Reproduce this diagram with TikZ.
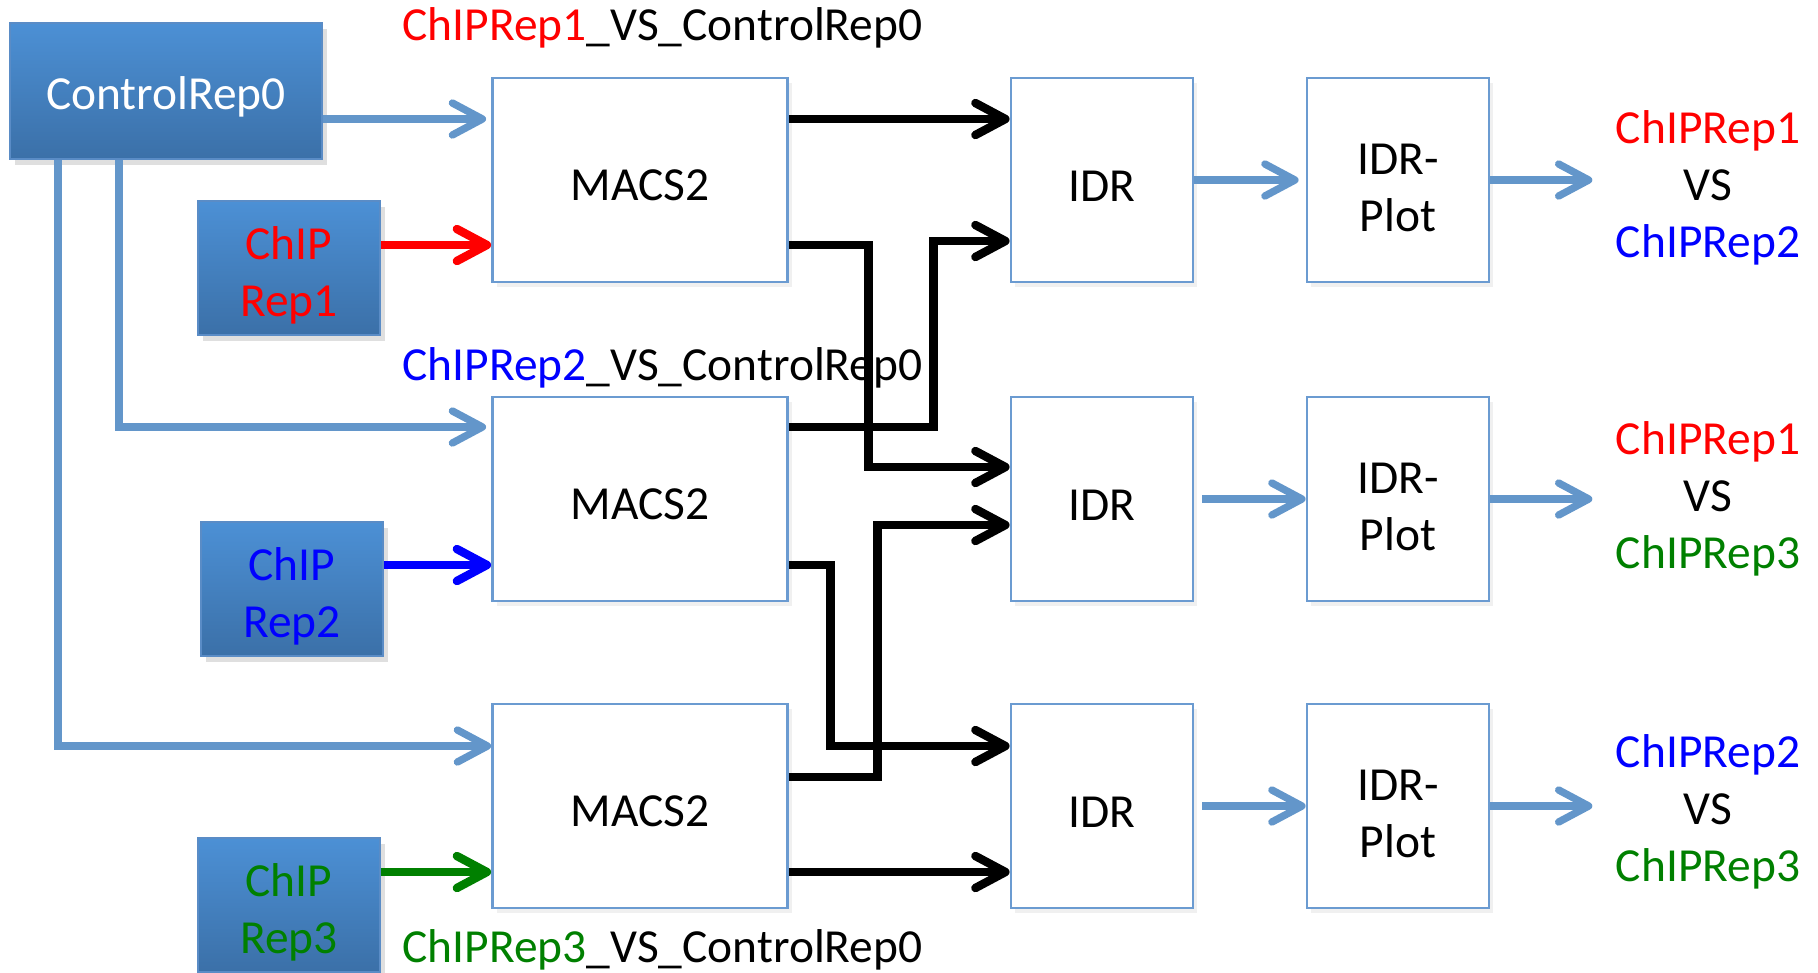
\documentclass[tikz,border=0pt]{standalone}
\usepackage{fontspec}
\setmainfont{Carlito}
\usetikzlibrary{arrows.meta,shadows}
\newcommand\firstline[1]{\rule{0pt}{#1}}

\begin{document}
\begin{tikzpicture}[x=1cm,y=-1cm,
  font=\fontsize{13.5}{16.3}\selectfont,
  srcbox/.style={draw=srcedge,line width=0.6pt,top color=srctop,bottom color=srcbot,
    minimum height=1.34cm,align=center,inner sep=0pt,
    execute at begin node={\rule{0pt}{12.5pt}},
    drop shadow={opacity=0.25,shadow xshift=0.5mm,shadow yshift=-0.6mm}},
  toolbox/.style={draw=boxedge,line width=0.8pt,fill=white,align=center,
    minimum height=2.04cm,inner sep=0pt,
    execute at begin node={\rule{0pt}{12pt}},
    drop shadow={opacity=0.12,shadow xshift=0.4mm,shadow yshift=-0.5mm}},
  feed/.style={feedblue,line width=2.1pt,-{Straight Barb[length=3mm,width=3.2mm,round]}},
  link/.style={black,line width=2.4pt,-{Straight Barb[length=3mm,width=3.2mm,round]}},
  outlabel/.style={align=center,inner xsep=6.5pt,inner ysep=0pt}]
\definecolor{srctop}{HTML}{4C90D5}
\definecolor{srcbot}{HTML}{3B70A8}
\definecolor{srcedge}{HTML}{5A8CC6}
\definecolor{boxedge}{HTML}{6B9BD1}
\definecolor{feedblue}{HTML}{6396CA}
\definecolor{repred}{HTML}{FF0000}
\definecolor{repblue}{HTML}{0000FF}
\definecolor{repgreen}{HTML}{008000}
\useasboundingbox (0,0) rectangle (18.18,9.72);

% inputs
\node[srcbox,minimum width=3.12cm,minimum height=1.36cm,text=white] (ctl) at (1.66,0.91) {ControlRep0};
\node[srcbox,minimum width=1.82cm,text=repred] (rep1) at (2.89,2.68) {\firstline{13.6pt}ChIP\\Rep1};
\node[srcbox,minimum width=1.82cm,text=repblue] (rep2) at (2.92,5.89) {\firstline{13.6pt}ChIP\\Rep2};
\node[srcbox,minimum width=1.82cm,text=repgreen] (rep3) at (2.89,9.05) {\firstline{13.6pt}ChIP\\Rep3};

% peak calling, idr, plots
\node[toolbox,minimum width=2.95cm] (m1) at (6.40,1.80) {MACS2};
\node[toolbox,minimum width=2.95cm] (m2) at (6.40,4.99) {MACS2};
\node[toolbox,minimum width=2.95cm] (m3) at (6.40,8.06) {MACS2};
\node[toolbox,minimum width=1.82cm] (i1) at (11.02,1.80) {IDR};
\node[toolbox,minimum width=1.82cm] (i2) at (11.02,4.99) {IDR};
\node[toolbox,minimum width=1.82cm] (i3) at (11.02,8.06) {IDR};
\node[toolbox,minimum width=1.82cm] (p1) at (13.98,1.80) {\firstline{13pt}IDR-\\Plot};
\node[toolbox,minimum width=1.82cm] (p2) at (13.98,4.99) {\firstline{13pt}IDR-\\Plot};
\node[toolbox,minimum width=1.82cm] (p3) at (13.98,8.06) {\firstline{13pt}IDR-\\Plot};

% results
\node[outlabel] (o1) at (17.08,1.88) {\textcolor{repred}{ChIPRep1}\\VS\\\textcolor{repblue}{ChIPRep2}};
\node[outlabel] (o2) at (17.08,4.99) {\textcolor{repred}{ChIPRep1}\\VS\\\textcolor{repgreen}{ChIPRep3}};
\node[outlabel] (o3) at (17.08,8.12) {\textcolor{repblue}{ChIPRep2}\\VS\\\textcolor{repgreen}{ChIPRep3}};

% pair labels
\node[anchor=west,inner sep=0pt] (t1) at (4.02,0.28) {\textcolor{repred}{ChIPRep1}\_VS\_ControlRep0};
\node[anchor=west,inner sep=0pt] (t2) at (4.02,3.68) {\textcolor{repblue}{ChIPRep2}\_VS\_ControlRep0};
\node[anchor=west,inner sep=0pt] (t3) at (4.02,9.50) {\textcolor{repgreen}{ChIPRep3}\_VS\_ControlRep0};

% ports
\coordinate (m1a) at ([yshift=6.1mm]m1.west);
\coordinate (m1b) at ([yshift=-6.5mm]m1.west);
\coordinate (m2a) at ([yshift=7.2mm]m2.west);
\coordinate (m2b) at ([yshift=-6.6mm]m2.west);
\coordinate (m3a) at ([yshift=6.0mm]m3.west);
\coordinate (m3b) at ([yshift=-6.6mm]m3.west);
\coordinate (m3c) at ([yshift=2.9mm]m3.east);
\coordinate (i1a) at ([yshift=6.1mm]i1.west);
\coordinate (i1b) at ([yshift=-6.1mm]i1.west);
\coordinate (i2a) at ([yshift=3.2mm]i2.west);
\coordinate (i2b) at ([yshift=-2.6mm]i2.west);
\coordinate (i3a) at ([yshift=6.0mm]i3.west);
\coordinate (i3b) at ([yshift=-6.6mm]i3.west);

% control and chip inputs
\draw[feed,shorten >=0.5mm] (ctl.east |- m1a) -- (m1a);
\draw[feed,shorten >=0.5mm] ([xshift=-4.7mm]ctl.south) |- (m2a);
\draw[feed] ([xshift=-10.8mm]ctl.south) |- (m3a);
\draw[repred,line width=2.4pt,-{Straight Barb[length=3mm,width=3.2mm,round]}] (rep1.east |- m1b) -- (m1b);
\draw[repblue,line width=2.4pt,-{Straight Barb[length=3mm,width=3.2mm,round]}] (rep2.east |- m2b) -- (m2b);
\draw[repgreen,line width=2.4pt,-{Straight Barb[length=3mm,width=3.2mm,round]}] (rep3.east |- m3b) -- (m3b);

% peaks to idr
\draw[link] (m1a -| m1.east) -- (i1a);
\draw[link] (m1b -| m1.east) -| ([xshift=-14.1mm]i2a) -- (i2a);
\draw[link] (m2a -| m2.east) -| ([xshift=-7.6mm]i1b) -- (i1b);
\draw[link] (m2b -| m2.east) -| ([xshift=-17.9mm]i3a) -- (i3a);
\draw[link] (m3c) -| ([xshift=-13.2mm]i2b) -- (i2b);
\draw[link] (m3b -| m3.east) -- (i3b);

% idr to plots to results
\draw[feed,shorten >=0.7mm] (i1) -- (p1);
\draw[feed,shorten <=0.8mm] (i2) -- (p2);
\draw[feed,shorten <=0.8mm] (i3) -- (p3);
\draw[feed] (p1.east) -- (p1.east -| o1.west);
\draw[feed] (p2.east) -- (p2.east -| o2.west);
\draw[feed] (p3.east) -- (p3.east -| o3.west);
\end{tikzpicture}
\end{document}
